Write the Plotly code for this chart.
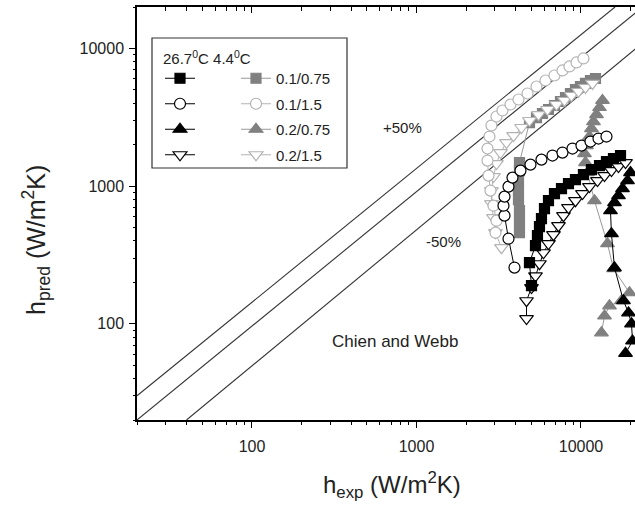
import plotly.graph_objects as go
import math

# ---------------- data ----------------
# 26.7 C series (black)
bs_x = [5002, 4863, 5289, 5439, 5593, 5752, 6000, 6345, 6901, 7612, 8395, 9259, 10350, 11580, 12960, 14290, 15760, 17390]
bs_y = [189, 278, 369, 437, 508, 580, 686, 784, 882, 959, 1043, 1115, 1212, 1318, 1410, 1508, 1585, 1667]

bc_x = [3942, 3625, 3428, 3379, 3428, 3625, 3834, 4288, 4932, 5752, 6710, 7718, 8879, 10070, 11420, 12780, 14290]
bc_y = [256, 415, 610, 721, 839, 992, 1153, 1296, 1433, 1558, 1667, 1752, 1874, 1970, 2107, 2215, 2291]

bt_x = [20000, 19180, 17880, 16900, 15980, 15110, 15320, 15980, 18130, 19450, 20280, 20570, 18650]
bt_y = [1254, 1096, 959, 853, 759, 663, 451, 255, 147, 120, 100, 75, 61]

bd_x = [4665, 4665, 5002, 5289, 5593, 5916, 6345, 6805, 7298, 7827, 8395, 9259, 10210, 11260, 12600, 13900, 15320, 16900, 18650]
bd_y = [109, 147, 183, 223, 273, 328, 382, 444, 516, 610, 698, 784, 882, 992, 1096, 1192, 1296, 1387, 1482]

# 4.4 C series (grey)
gs_x = [4228, 4228, 4228, 4169, 4169, 4169, 4228, 4228, 4863, 5364, 5834, 6345, 6901, 7505, 8054, 8633, 9259, 9929, 10650, 11420, 12250]
gs_y = [459, 552, 663, 798, 943, 1115, 1296, 1482, 2896, 3149, 3368, 3601, 3850, 4117, 4401, 4708, 5033, 5291, 5567, 5852, 6051]

lc_x = [3021, 3064, 2938, 2817, 2740, 2702, 2702, 2778, 2856, 3064, 3332, 3728, 4169, 4730, 5364, 6084, 6901, 7718, 8514, 9389, 10350]
lc_y = [459, 561, 721, 928, 1192, 1533, 1874, 2291, 2754, 3203, 3541, 3915, 4258, 4708, 5291, 5852, 6362, 6918, 7399, 7913, 8458]

gt_x = [13510, 12960, 12420, 11910, 11580, 11260, 10800, 10500, 10650, 10950, 12080, 14490, 15760, 19720, 17630, 14900, 13900, 13320]
gt_y = [4187, 3723, 3311, 2945, 2619, 2291, 1970, 1723, 1482, 1254, 784, 382, 251, 168, 147, 135, 114, 86]

lt_x = [3286, 3021, 2938, 2856, 2856, 2938, 3064, 3240, 3525, 3889, 4348, 4863, 5515, 6256, 7097, 7937, 8755, 9656, 10650, 11750]
lt_y = [357, 459, 590, 746, 928, 1173, 1457, 1752, 2072, 2330, 2665, 2995, 3311, 3601, 3915, 4187, 4552, 4868, 5205, 5567]

legend_labels = ["0.1/0.75", "0.1/1.5", "0.2/0.75", "0.2/1.5"]

# guide lines (+50 %, 0 %, -50 %) end points
plus_x, plus_y = [20, 16100], [30, 20000]
one_x, one_y = [20, 21590], [20, 18270]
minus_x, minus_y = [40, 21590], [20, 10000]

x_tickvals = [100, 1000, 10000]
y_tickvals = [100, 1000, 10000]
minor_vals = [m * 10 ** e for e in range(1, 5) for m in range(2, 10)]

# ---------------- layout geometry ----------------
W, H = 635, 508
L, R, T, B = 137, 0, 7, 88
PW, PH = W - L - R, H - T - B


def px(xp):
    return (xp - L) / PW


def py(yp):
    return (H - B - yp) / PH


FONT = "Arial, Liberation Sans, sans-serif"
BLACK = "#000000"
GREY = "#808080"
GREYLINE = "#999999"
LIGHT = "#b3b3b3"
TXT = "#222222"

fig = go.Figure()

for gx, gy in [(plus_x, plus_y), (one_x, one_y), (minus_x, minus_y)]:
    fig.add_trace(go.Scatter(x=gx, y=gy, mode="lines",
                             line=dict(color="#333333", width=1.1),
                             showlegend=False, hoverinfo="skip"))

series = [
    # x, y, symbol, size, fill, outline, linecolor, legend, name
    (gt_x, gt_y, "triangle-up", 12, GREY, GREY, GREYLINE, "legend2", legend_labels[2]),
    (gs_x, gs_y, "square", 10, GREY, GREY, GREYLINE, "legend2", legend_labels[0]),
    (lt_x, lt_y, "triangle-down", 12, "white", LIGHT, LIGHT, "legend2", legend_labels[3]),
    (lc_x, lc_y, "circle", 11, "white", LIGHT, LIGHT, "legend2", legend_labels[1]),
    (bc_x, bc_y, "circle", 11, "white", BLACK, BLACK, "legend", " "),
    (bd_x, bd_y, "triangle-down", 12, "white", BLACK, BLACK, "legend", " "),
    (bs_x, bs_y, "square", 10, BLACK, BLACK, BLACK, "legend", " "),
    (bt_x, bt_y, "triangle-up", 12, BLACK, BLACK, BLACK, "legend", " "),
]
rank = {"square": 1, "circle": 2, "triangle-up": 3, "triangle-down": 4}
for i, (xs, ys, sym, size, fill, outl, lc, lg, name) in enumerate(series):
    fig.add_trace(go.Scatter(
        x=xs, y=ys, mode="lines+markers", name=name,
        legend=lg, legendgroup=f"g{i}", legendrank=rank[sym],
        line=dict(color=lc, width=1),
        marker=dict(symbol=sym, size=size, color=fill,
                    line=dict(color=outl, width=1.2)),
        showlegend=True,
    ))

# empty traces so that the extra tick axes are drawn
fig.add_trace(go.Scatter(x=[], y=[], xaxis="x2", yaxis="y", showlegend=False))
fig.add_trace(go.Scatter(x=[], y=[], xaxis="x3", yaxis="y", showlegend=False))
fig.add_trace(go.Scatter(x=[], y=[], xaxis="x4", yaxis="y", showlegend=False))
fig.add_trace(go.Scatter(x=[], y=[], xaxis="x", yaxis="y2", showlegend=False))

xr = [math.log10(20), math.log10(20) + PW / 164.5]
yr = [math.log10(20), math.log10(20000)]

base = dict(type="log", showgrid=False, zeroline=False, tickwidth=1.2, tickcolor=BLACK,
            tickmode="array")
major = dict(base, showline=True, linecolor=BLACK, linewidth=1.5, ticks="outside",
             ticklen=6, tickfont=dict(family=FONT, size=16, color=TXT))
minor_ax = dict(base, showline=False, ticklen=3.5, tickvals=minor_vals,
                showticklabels=False)

fig.update_layout(
    width=W, height=H,
    margin=dict(l=L, r=R, t=T, b=B, pad=0),
    paper_bgcolor="white", plot_bgcolor="white",
    font=dict(family=FONT, color=TXT),
    xaxis=dict(major, range=xr, tickvals=x_tickvals,
               ticktext=[str(v) for v in x_tickvals], ticklabelstandoff=5),
    xaxis3=dict(minor_ax, range=xr, overlaying="x", side="bottom", anchor="y",
                ticks="outside"),
    xaxis2=dict(base, range=xr, overlaying="x", side="top", anchor="y",
                showline=True, linecolor=BLACK, linewidth=1.5, ticks="inside",
                ticklen=6, tickvals=x_tickvals, showticklabels=False),
    xaxis4=dict(minor_ax, range=xr, overlaying="x", side="top", anchor="y",
                ticks="inside"),
    yaxis=dict(major, range=yr, tickvals=y_tickvals,
               ticktext=[str(v) for v in y_tickvals], ticklabelstandoff=2),
    yaxis2=dict(minor_ax, range=yr, overlaying="y", side="left", anchor="x",
                ticks="outside"),
    showlegend=True,
    legend=dict(x=px(160), y=py(62), xanchor="left", yanchor="top",
                bgcolor="rgba(0,0,0,0)", borderwidth=0, tracegroupgap=3,
                font=dict(family=FONT, size=15, color=TXT), itemwidth=30,
                traceorder="grouped"),
    legend2=dict(x=px(236), y=py(62), xanchor="left", yanchor="top",
                 bgcolor="rgba(0,0,0,0)", borderwidth=0, tracegroupgap=3,
                 font=dict(family=FONT, size=15, color=TXT), itemwidth=30,
                 traceorder="grouped"),
)

# legend frame
fig.add_shape(type="rect", xref="paper", yref="paper",
              x0=px(152), x1=px(347), y0=py(168), y1=py(38),
              line=dict(color="#333", width=1.2), fillcolor="rgba(0,0,0,0)", layer="below")

ann = [
    dict(text="26.7<sup>0</sup>C 4.4<sup>0</sup>C", x=px(161), y=py(57), xanchor="left",
         yanchor="middle", size=15),
    dict(text="+50%", x=px(402), y=py(127), xanchor="center", yanchor="middle", size=15),
    dict(text="-50%", x=px(443), y=py(242), xanchor="center", yanchor="middle", size=15),
    dict(text="Chien and Webb", x=px(395), y=py(341), xanchor="center", yanchor="middle", size=17),
    dict(text="h<sub>exp</sub> (W/m<sup>2</sup>K)", x=px(392), y=py(485), xanchor="center",
         yanchor="middle", size=24),
]
for a in ann:
    fig.add_annotation(text=a["text"], x=a["x"], y=a["y"], xref="paper", yref="paper",
                       xanchor=a["xanchor"], yanchor=a["yanchor"], showarrow=False,
                       font=dict(family=FONT, size=a["size"], color=TXT))
fig.add_annotation(text="h<sub>pred</sub> (W/m<sup>2</sup>K)", x=px(36), y=py(240),
                   xref="paper", yref="paper", textangle=-90, showarrow=False,
                   xanchor="center", yanchor="middle",
                   font=dict(family=FONT, size=25, color=TXT))

fig.write_html("out.html")
